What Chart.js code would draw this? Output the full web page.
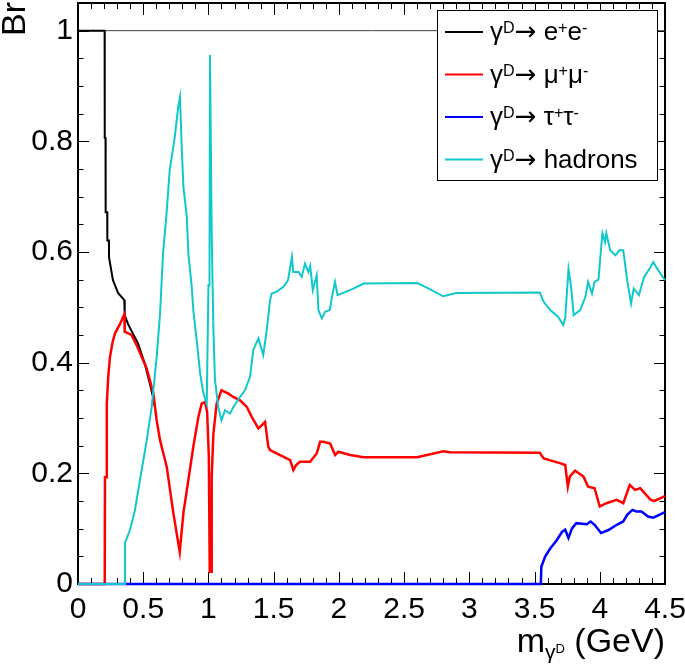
<!DOCTYPE html>
<html>
<head>
<meta charset="utf-8">
<script src="https://cdn.jsdelivr.net/npm/chart.js@4.4.0/dist/chart.umd.min.js"></script>
<style>
  html, body { margin: 0; padding: 0; background: #fff; }
  #wrap { width: 685px; height: 668px; position: relative; }
</style>
</head>
<body>
<div id="wrap"><canvas id="brChart"></canvas></div>
<script>
const FONT = '"Liberation Sans", Arial, Helvetica, sans-serif';
const ARROW_FONT = '"DejaVu Sans", sans-serif';

// sum of all channels
const totalMass = [0, 4.5];
const totalBr = [1, 1];

// gamma_D -> e+ e-
const eeMass = [0, 0.204, 0.205, 0.211, 0.212, 0.224, 0.225, 0.237, 0.238, 0.268, 0.307, 0.355, 0.358, 0.383, 0.42, 0.46, 0.51, 0.55, 0.575, 0.59];
const eeBr = [1, 1, 0.806, 0.806, 0.672, 0.672, 0.621, 0.621, 0.59, 0.549, 0.526, 0.513, 0.486, 0.47, 0.453, 0.435, 0.40, 0.363, 0.338, 0.32];

// gamma_D -> mu+ mu-
const mumuMass = [0, 0.205, 0.207, 0.218, 0.221, 0.232, 0.245, 0.265, 0.284, 0.322, 0.355, 0.358, 0.41, 0.449, 0.487, 0.526, 0.577, 0.603, 0.629, 0.68, 0.731, 0.78, 0.808, 0.846, 0.884, 0.923, 0.948, 0.974, 0.99, 1.003, 1.01, 1.02, 1.025, 1.038, 1.063, 1.10, 1.153, 1.19, 1.242, 1.294, 1.332, 1.383, 1.434, 1.459, 1.472, 1.549, 1.626, 1.651, 1.672, 1.702, 1.779, 1.83, 1.856, 1.881, 1.933, 1.971, 1.996, 2.086, 2.19, 2.60, 2.80, 2.85, 3.54, 3.57, 3.70, 3.735, 3.755, 3.77, 3.81, 3.875, 3.91, 3.96, 4.00, 4.05, 4.13, 4.18, 4.23, 4.27, 4.31, 4.39, 4.42, 4.5];
const mumuBr = [0, 0, 0.193, 0.193, 0.327, 0.375, 0.41, 0.437, 0.453, 0.47, 0.487, 0.456, 0.45, 0.432, 0.411, 0.39, 0.345, 0.296, 0.26, 0.212, 0.128, 0.058, 0.128, 0.188, 0.248, 0.302, 0.326, 0.329, 0.311, 0.23, 0.022, 0.022, 0.194, 0.272, 0.326, 0.35, 0.344, 0.338, 0.332, 0.32, 0.302, 0.281, 0.293, 0.248, 0.242, 0.233, 0.224, 0.206, 0.215, 0.221, 0.221, 0.236, 0.257, 0.257, 0.254, 0.233, 0.239, 0.233, 0.229, 0.229, 0.240, 0.238, 0.237, 0.227, 0.218, 0.215, 0.176, 0.194, 0.205, 0.194, 0.176, 0.173, 0.14, 0.146, 0.152, 0.146, 0.179, 0.17, 0.173, 0.152, 0.15, 0.159];

// gamma_D -> tau+ tau-
const tautauMass = [0, 3.548, 3.552, 3.58, 3.62, 3.67, 3.71, 3.735, 3.76, 3.786, 3.82, 3.90, 3.93, 3.96, 4.01, 4.07, 4.13, 4.18, 4.21, 4.25, 4.28, 4.32, 4.37, 4.41, 4.5];
const tautauBr = [0, 0, 0.031, 0.049, 0.064, 0.079, 0.094, 0.098, 0.083, 0.10, 0.11, 0.108, 0.113, 0.107, 0.092, 0.098, 0.107, 0.113, 0.125, 0.134, 0.131, 0.131, 0.122, 0.12, 0.13];

// gamma_D -> hadrons
const hadMass = [0, 0.357, 0.36, 0.399, 0.437, 0.475, 0.527, 0.565, 0.603, 0.629, 0.652, 0.677, 0.703, 0.742, 0.767, 0.782, 0.795, 0.808, 0.834, 0.846, 0.872, 0.884, 0.91, 0.936, 0.961, 0.987, 1.0, 1.008, 1.012, 1.018, 1.025, 1.038, 1.05, 1.075, 1.10, 1.127, 1.166, 1.191, 1.242, 1.28, 1.319, 1.344, 1.383, 1.42, 1.447, 1.472, 1.485, 1.52, 1.575, 1.61, 1.64, 1.65, 1.69, 1.715, 1.74, 1.766, 1.78, 1.80, 1.83, 1.843, 1.869, 1.894, 1.93, 1.945, 1.97, 1.99, 2.086, 2.19, 2.60, 2.67, 2.80, 2.90, 3.54, 3.57, 3.62, 3.68, 3.72, 3.735, 3.76, 3.78, 3.80, 3.85, 3.89, 3.91, 3.94, 3.96, 3.99, 4.02, 4.04, 4.05, 4.08, 4.12, 4.15, 4.18, 4.21, 4.24, 4.26, 4.30, 4.34, 4.39, 4.41, 4.44, 4.5];
const hadBr = [0, 0, 0.074, 0.098, 0.134, 0.188, 0.26, 0.32, 0.41, 0.489, 0.598, 0.664, 0.748, 0.808, 0.86, 0.88, 0.79, 0.718, 0.664, 0.597, 0.537, 0.495, 0.441, 0.381, 0.345, 0.326, 0.54, 0.54, 0.956, 0.956, 0.634, 0.459, 0.369, 0.32, 0.296, 0.314, 0.308, 0.32, 0.338, 0.35, 0.375, 0.423, 0.444, 0.414, 0.459, 0.513, 0.525, 0.528, 0.537, 0.549, 0.591, 0.564, 0.564, 0.555, 0.579, 0.564, 0.575, 0.531, 0.558, 0.495, 0.48, 0.492, 0.495, 0.516, 0.546, 0.522, 0.531, 0.543, 0.544, 0.536, 0.52, 0.526, 0.527, 0.51, 0.495, 0.483, 0.468, 0.48, 0.569, 0.537, 0.486, 0.495, 0.519, 0.546, 0.525, 0.546, 0.55, 0.634, 0.618, 0.634, 0.603, 0.594, 0.603, 0.603, 0.549, 0.507, 0.534, 0.522, 0.555, 0.573, 0.582, 0.57, 0.549];

const xMin = 0, xMax = 4.5, xMajor = 0.5, xMinor = 0.1;
const yMin = 0, yMax = 1.05, yMajor = 0.2, yMinor = 0.05;

const legendLabels = ['γ^{D}→ e^{+}e^{-}', 'γ^{D}→ μ^{+}μ^{-}', 'γ^{D}→ τ^{+}τ^{-}', 'γ^{D}→ hadrons'];

function toPoints(xs, ys) {
  return xs.map((x, i) => ({ x, y: ys[i] }));
}

// split "γ^{D}→ e^{+}e^{-}" into normal / raised / lowered pieces
function richParts(text, size) {
  const parts = [];
  const re = /([\^_])\{([^}]*)\}|→|[^\^_→]+/g;
  let m;
  while ((m = re.exec(text)) !== null) {
    if (m[1] === '^') parts.push({ text: m[2], size: size * 0.62, dy: -size * 0.26 });
    else if (m[1] === '_') parts.push({ text: m[2], size: size * 0.6, dy: size * 0.22 });
    else if (m[0] === '→') parts.push({ text: '→', size: size, dy: 0, family: ARROW_FONT });
    else parts.push({ text: m[0], size, dy: 0 });
  }
  return parts;
}

function drawParts(ctx, parts, x, y, align) {
  let total = 0;
  parts.forEach(p => {
    ctx.font = `${p.size}px ${p.family || FONT}`;
    p.w = ctx.measureText(p.text).width;
    total += p.w;
  });
  let cx = align === 'right' ? x - total : x;
  ctx.textAlign = 'left';
  ctx.textBaseline = 'alphabetic';
  parts.forEach(p => {
    ctx.font = `${p.size}px ${p.family || FONT}`;
    ctx.fillText(p.text, cx, y + p.dy);
    cx += p.w;
  });
}

// ROOT style frame with ticks pointing inwards on all four sides
const frameTicks = {
  id: 'frameTicks',
  beforeDatasetsDraw(chart) {
    const { ctx, chartArea: a, scales: { x, y } } = chart;
    ctx.save();
    ctx.strokeStyle = '#000';
    ctx.lineWidth = 1;
    ctx.beginPath();
    const nx = Math.round((xMax - xMin) / xMinor);
    for (let i = 0; i <= nx; i++) {
      const px = Math.round(x.getPixelForValue(xMin + i * xMinor)) + 0.5;
      const len = i % Math.round(xMajor / xMinor) === 0 ? 12 : 6;
      ctx.moveTo(px, a.bottom); ctx.lineTo(px, a.bottom - len);
      ctx.moveTo(px, a.top); ctx.lineTo(px, a.top + len);
    }
    const ny = Math.floor((yMax - yMin) / yMinor + 1e-6);
    for (let i = 0; i <= ny; i++) {
      const py = Math.round(y.getPixelForValue(yMin + i * yMinor)) + 0.5;
      const len = i % Math.round(yMajor / yMinor) === 0 ? 11 : 5.5;
      ctx.moveTo(a.left, py); ctx.lineTo(a.left + len, py);
      ctx.moveTo(a.right, py); ctx.lineTo(a.right - len, py);
    }
    ctx.stroke();
    ctx.lineWidth = 2;
    ctx.strokeRect(a.left, a.top, a.right - a.left, a.bottom - a.top);
    ctx.restore();
  },
  afterDraw(chart) {
    const { ctx, chartArea: a } = chart;
    ctx.save();
    ctx.fillStyle = '#000';
    // x title: m_{γ^D} (GeV)
    drawParts(ctx, [
      { text: 'm', size: 34, dy: 0 },
      { text: 'γ', size: 21, dy: 7 },
      { text: 'D', size: 13, dy: 1 },
      { text: ' (GeV)', size: 34, dy: 0 }
    ], a.right, 652, 'right');
    // y title
    ctx.translate(25, 2);
    ctx.rotate(-Math.PI / 2);
    ctx.font = `34px ${FONT}`;
    ctx.textAlign = 'right';
    ctx.textBaseline = 'alphabetic';
    ctx.fillText('Br', 0, 0);
    ctx.restore();
  }
};

const legendBox = {
  id: 'legendBox',
  afterDatasetsDraw(chart) {
    const { ctx, chartArea: a } = chart;
    const w = 220, h = 170;
    const left = a.right - 8 - w, top = a.top + 7;
    ctx.save();
    ctx.fillStyle = '#fff';
    ctx.fillRect(left, top, w, h);
    ctx.strokeStyle = '#000';
    ctx.lineWidth = 1;
    ctx.strokeRect(left + 0.5, top + 0.5, w, h);
    const entries = chart.data.datasets.filter(ds => ds.legendIndex !== undefined);
    entries.forEach(ds => {
      const cy = top + 22 + ds.legendIndex * 42.5;
      ctx.strokeStyle = ds.borderColor;
      ctx.lineWidth = 2;
      ctx.beginPath();
      ctx.moveTo(left + 8, cy);
      ctx.lineTo(left + 46, cy);
      ctx.stroke();
      ctx.fillStyle = '#000';
      drawParts(ctx, richParts(legendLabels[ds.legendIndex], 26), left + 53, cy + 8, 'left');
    });
    ctx.restore();
  }
};

const ctx = document.getElementById('brChart').getContext('2d');
const chart = new Chart(ctx, {
  type: 'line',
  data: {
    datasets: [
      { data: toPoints(totalMass, totalBr), borderColor: '#444444', borderWidth: 1, order: 5 },
      { data: toPoints(eeMass, eeBr), borderColor: '#000000', borderWidth: 2, order: 4, legendIndex: 0 },
      { data: toPoints(mumuMass, mumuBr), borderColor: '#ff0000', borderWidth: 2.5, order: 3, legendIndex: 1 },
      { data: toPoints(tautauMass, tautauBr), borderColor: '#0000ff', borderWidth: 2.5, order: 2, legendIndex: 2 },
      { data: toPoints(hadMass, hadBr), borderColor: '#10c8cc', borderWidth: 2, order: 1, legendIndex: 3 }
    ].map(ds => ({ ...ds, fill: false, tension: 0, pointRadius: 0, clip: 3 }))
  },
  options: {
    responsive: true,
    maintainAspectRatio: false,
    animation: false,
    devicePixelRatio: 1,
    layout: { padding: { top: 3, right: 20, left: 0, bottom: 0 } },
    plugins: {
      legend: { display: false },
      tooltip: { enabled: false }
    },
    scales: {
      x: {
        type: 'linear',
        min: xMin,
        max: xMax,
        grid: { display: false, drawTicks: false },
        border: { display: false },
        ticks: {
          stepSize: xMajor,
          maxRotation: 0,
          autoSkip: false,
          padding: 8,
          color: '#000',
          font: { family: FONT, size: 30 },
          callback: v => +v.toFixed(1)
        },
        afterFit(scale) {
          scale.height = 84;
          scale.paddingLeft = 0;
          scale.paddingRight = 0;
        }
      },
      y: {
        type: 'linear',
        min: yMin,
        max: yMax,
        grid: { display: false, drawTicks: false },
        border: { display: false },
        ticks: {
          stepSize: yMajor,
          includeBounds: false,
          padding: 5,
          color: '#000',
          font: { family: FONT, size: 30 },
          callback: v => +v.toFixed(1)
        },
        afterFit(scale) {
          scale.width = 78;
          scale.paddingTop = 0;
          scale.paddingBottom = 0;
        }
      }
    }
  },
  plugins: [frameTicks, legendBox]
});
</script>
</body>
</html>
